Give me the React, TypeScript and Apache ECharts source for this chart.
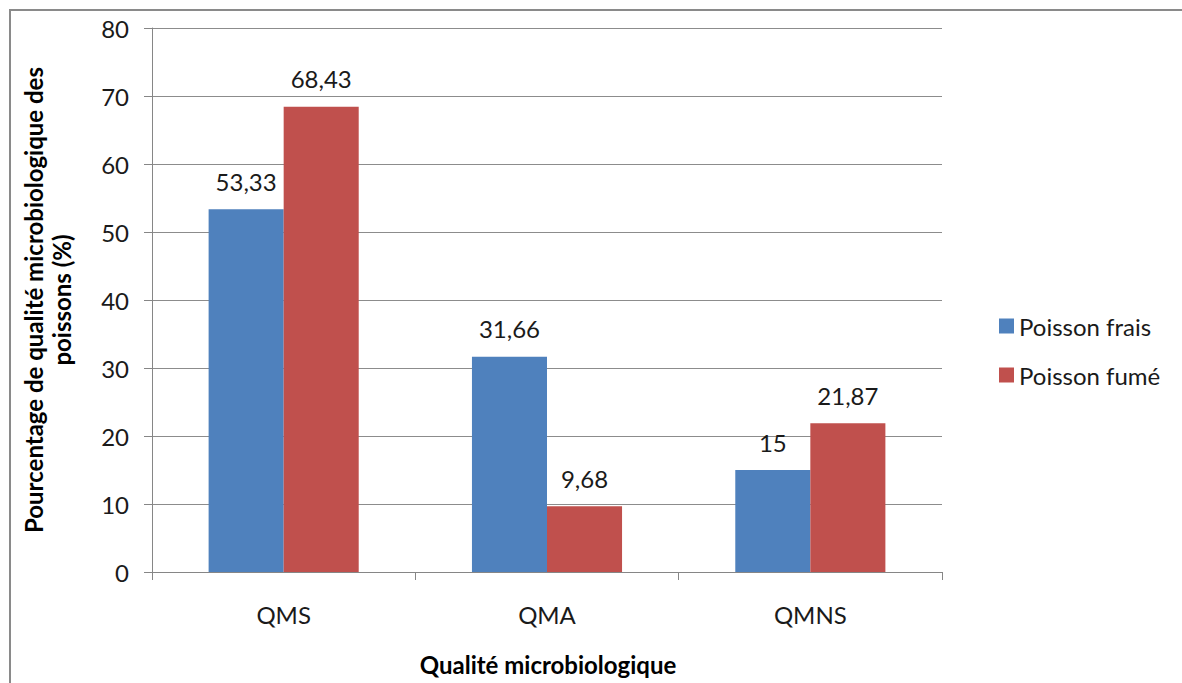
import React, { useEffect, useRef } from "react";
import * as echarts from "echarts";

const categories = ["QMS", "QMA", "QMNS"];
const frais = [53.33, 31.66, 15];
const fume = [68.43, 9.68, 21.87];
const seriesNames = ["Poisson frais", "Poisson fumé"];
const yTitleLines = ["Pourcentage de qualité microbiologique des", "poissons (%)"];
const xTitle = "Qualité microbiologique";

const FONT = "Lato, 'Open Sans', sans-serif";
const FS = 24;

export default function App() {
  const ref = useRef<HTMLDivElement>(null);
  useEffect(() => {
    if (!ref.current) return;
    const chart = echarts.init(ref.current, null, { renderer: "svg" });
    const fmt = (p: any) => String(p.value).replace(".", ",");
    const labelStyle = {
      show: true,
      position: "top",
      distance: 16,
      fontSize: FS,
      color: "#1a1a1a",
      fontFamily: FONT,
      formatter: fmt,
    };
    chart.setOption({
      animation: false,
      backgroundColor: "#fff",
      textStyle: { fontFamily: FONT },
      grid: { left: 152, top: 28, width: 790, height: 544, containLabel: false },
      legend: {
        orient: "vertical",
        left: 994,
        top: 309,
        itemWidth: 15,
        itemHeight: 15,
        itemGap: 25,
        icon: "rect",
        textStyle: { fontSize: FS, color: "#1a1a1a", fontFamily: FONT },
        data: seriesNames,
      },
      xAxis: {
        type: "category",
        data: categories,
        axisLine: { lineStyle: { color: "#868686", width: 1 } },
        axisTick: { show: true, length: 8, lineStyle: { color: "#868686" } },
        axisLabel: { fontSize: FS, color: "#1a1a1a", margin: 30, fontFamily: FONT },
      },
      yAxis: {
        type: "value",
        min: 0,
        max: 80,
        interval: 10,
        axisLine: { show: true, lineStyle: { color: "#868686", width: 1 } },
        axisTick: { show: true, length: 8, lineStyle: { color: "#868686" } },
        axisLabel: { fontSize: FS, color: "#1a1a1a", margin: 23, fontFamily: FONT },
        splitLine: { lineStyle: { color: "#8c8c8c", width: 1 } },
      },
      series: [
        {
          name: seriesNames[0],
          type: "bar",
          data: frais,
          barGap: "0%",
          barCategoryGap: "43%",
          itemStyle: { color: "#4F81BD" },
          label: labelStyle,
        },
        {
          name: seriesNames[1],
          type: "bar",
          data: fume,
          barGap: "0%",
          barCategoryGap: "43%",
          itemStyle: { color: "#C0504D" },
          label: labelStyle,
        },
      ],
      graphic: [
        {
          type: "rect",
          shape: { x: 10, y: 10, width: 1200, height: 700 },
          style: { fill: "none", stroke: "#8a8a8a", lineWidth: 2 },
          z: 100,
        },
        {
          type: "text",
          x: 33,
          y: 300,
          rotation: Math.PI / 2,
          style: {
            text: yTitleLines[0],
            fontSize: FS,
            fontWeight: "bold",
            fontFamily: FONT,
            fill: "#000",
            align: "center",
            verticalAlign: "middle",
          },
        },
        {
          type: "text",
          x: 61,
          y: 300,
          rotation: Math.PI / 2,
          style: {
            text: yTitleLines[1],
            fontSize: FS,
            fontWeight: "bold",
            fontFamily: FONT,
            fill: "#000",
            align: "center",
            verticalAlign: "middle",
          },
        },
        {
          type: "text",
          x: 548,
          y: 664,
          style: {
            text: xTitle,
            fontSize: FS,
            fontWeight: "bold",
            fontFamily: FONT,
            fill: "#000",
            align: "center",
            verticalAlign: "middle",
          },
        },
      ],
    });
    return () => chart.dispose();
  }, []);
  return (
    <div
      ref={ref}
      style={{ position: "absolute", left: 0, top: 0, width: 1182, height: 683 }}
    />
  );
}
